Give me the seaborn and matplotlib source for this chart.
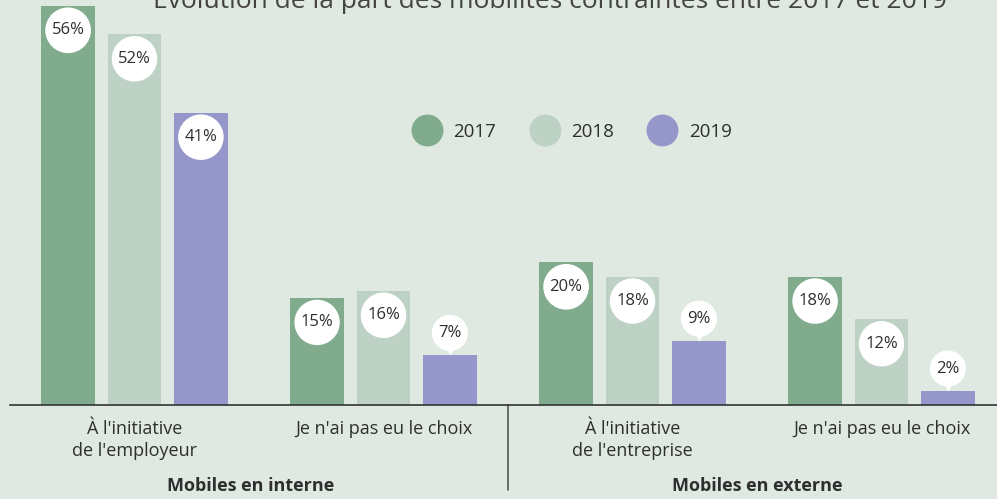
import numpy as np
import pandas as pd
import matplotlib
matplotlib.use("Agg")
import matplotlib.pyplot as plt
from matplotlib.lines import Line2D
from matplotlib.transforms import offset_copy
import seaborn as sns

# ---- data ----
categories = ["interne_employeur", "interne_pas_choix", "externe_entreprise", "externe_pas_choix"]
tick_labels = ["À l'initiative\nde l'employeur", "Je n'ai pas eu le choix",
               "À l'initiative\nde l'entreprise", "Je n'ai pas eu le choix"]
years = ["2017", "2018", "2019"]
values_2017 = [56, 15, 20, 18]
values_2018 = [52, 16, 18, 12]
values_2019 = [41, 7, 9, 2]
group_labels = ["Mobiles en interne", "Mobiles en externe"]
title = "Évolution de la part des mobilités contraintes entre 2017 et 2019"

colors = ["#80ab8c", "#bdd1c4", "#9597cb"]
bg = "#dfe9e1"
txt = "#2e2e2e"

df = pd.DataFrame({
    "categorie": categories * 3,
    "annee": [y for y in years for _ in categories],
    "valeur": values_2017 + values_2018 + values_2019,
})

sns.set_style("white")
plt.rcParams["font.family"] = ["Open Sans", "DejaVu Sans"]

fig = plt.figure(figsize=(9.97, 4.99), dpi=100, facecolor=bg)
ax = fig.add_axes([10 / 997, 94 / 499, 996 / 997, 405 / 499])
ax.set_facecolor(bg)

sns.barplot(data=df, x="categorie", y="valeur", hue="annee", order=categories,
            hue_order=years, palette=colors, saturation=1, width=0.8, gap=0.19,
            legend=False, linewidth=0, edgecolor="none", ax=ax)

ax.set_xlim(-0.5, 3.5)
ax.set_ylim(0, 56.84)
ax.set_xlabel("")
ax.set_ylabel("")
ax.set_yticks([])
for s in ["top", "right", "left"]:
    ax.spines[s].set_visible(False)
ax.spines["bottom"].set_color("#333333")
ax.spines["bottom"].set_linewidth(1.2)

ax.set_xticks(range(len(categories)))
ax.set_xticklabels(tick_labels, fontsize=13, color=txt, linespacing=1.3)
ax.tick_params(axis="x", which="major", length=0, pad=11)
ax.set_xticks([-0.495, 0.5, 2.5], minor=True)
ax.tick_params(axis="x", which="minor", length=7.5, width=1.1, color="#333333")

# divider between groups
ax.plot([1.5, 1.5], [0, -0.21], transform=ax.get_xaxis_transform(), clip_on=False,
        color="#555555", lw=1.2)

# value labels
pin_tr = offset_copy(ax.transData, fig=fig, y=5, units="dots")
for cont in ax.containers:
    for bar in cont:
        h = bar.get_height()
        x = bar.get_x() + bar.get_width() / 2
        label = f"{h:.0f}%"
        if h >= 10:
            ax.annotate(label, (x, h), xytext=(0, -17.5), textcoords="offset points",
                        ha="center", va="center", fontsize=12, color=txt,
                        bbox=dict(boxstyle="circle,pad=0.38", fc="white", ec="none"))
        else:
            ax.plot([x], [h], marker="v", ms=7, color="white", mec="none",
                    transform=pin_tr, clip_on=False, zorder=4)
            ax.annotate(label, (x, h), xytext=(0, 16), textcoords="offset points",
                        ha="center", va="center", fontsize=12, color=txt, zorder=5,
                        bbox=dict(boxstyle="circle,pad=0.38", fc="white", ec="none"))

# legend
handles = [Line2D([], [], ls="none", marker="o", ms=23, mfc=c, mec="none") for c in colors]
leg = ax.legend(handles, years, ncol=3, frameon=False, loc="center",
                bbox_to_anchor=(0.562, 0.674), fontsize=13.5, handletextpad=0.4,
                columnspacing=1.6, labelcolor=txt)

# group labels
gtr = ax.get_xaxis_transform()
ax.text(0.468, -0.2, group_labels[0], transform=gtr, ha="center", va="center",
        fontsize=13, fontweight="bold", color=txt)
ax.text(2.5, -0.2, group_labels[1], transform=gtr, ha="center", va="center",
        fontsize=13, fontweight="bold", color=txt)

# title (cut at top edge as in reference)
fig.text(550 / 997, 1 - 8 / 499, title, ha="center", va="baseline",
         fontsize=19, color="#444444")

fig.savefig("out.png", dpi=100, facecolor=bg)
